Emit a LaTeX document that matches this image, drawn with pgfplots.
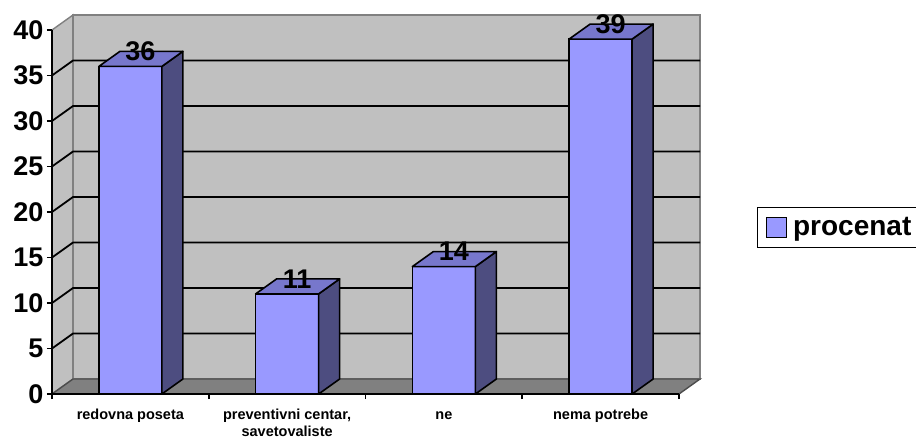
\documentclass[border=0pt]{standalone}
\usepackage{fontspec}
\setmainfont{Liberation Sans}
\usepackage{pgfplots}
\usepackage{pgfplotstable}
\pgfplotsset{compat=1.18}

\definecolor{barfront}{HTML}{9999FF}
\definecolor{barside}{HTML}{4D4D80}
\definecolor{bartop}{HTML}{7777CC}
\definecolor{wall}{HTML}{C0C0C0}
\definecolor{floorgray}{HTML}{808080}

\pgfplotstableread{
x   y
0.5 36
1.5 11
2.5 14
3.5 39
}\procenat

% depth of the 3d look: 21pt right and 15pt up
% in data units that is 21/156.75 on x and 15/9.1 on y
\def\dx{0.134}
\def\dy{1.648}

\begin{document}
\begin{tikzpicture}
\useasboundingbox (0,0) rectangle (916pt,440pt);
\clip (0,0) rectangle (916pt,440pt);
\begin{axis}[
  at={(52pt,46pt)}, anchor=south west,
  x=156.75pt, y=9.1pt,
  xmin=0, xmax=4, ymin=0, ymax=40,
  clip=false, axis on top,
  axis x line*=bottom, axis y line*=left,
  axis line style={line width=1.8pt},
  tick align=outside,
  ytick={0,5,...,40},
  xtick={0.5,1.5,2.5,3.5},
  xticklabels={\strut redovna poseta,{\strut preventivni centar,\\savetovaliste},\strut ne,\strut nema potrebe},
  minor xtick={0,1,2,3,4},
  major tick length=5pt, minor tick length=5pt,
  major x tick style={draw=none},
  minor x tick style={black, line width=1.8pt},
  y tick style={black, line width=1.8pt},
  xticklabel style={font=\bfseries\fontsize{14.5}{17}\selectfont, align=center, yshift=-5pt},
  yticklabel style={font=\bfseries\fontsize{27}{30}\selectfont},
  /pgf/number format/assume math mode=true,
  legend style={at={(1.1244,0.4574)}, anchor=west, draw=black, line width=1.4pt,
    font=\bfseries\fontsize{28}{32}\selectfont, inner xsep=8pt, inner ysep=8pt,
    column sep=4pt},
  legend image code/.code={\filldraw[fill=barfront, draw=black, line width=1.4pt] (0pt,-10pt) rectangle (20pt,10pt);},
]
% walls and floor
\filldraw[fill=wall, draw=floorgray, line width=1.4pt] (0,0) -- ({\dx},{\dy}) -- ({\dx},{40+\dy}) -- (0,40) -- cycle;
\filldraw[fill=wall, draw=floorgray, line width=1.4pt] ({\dx},{\dy}) rectangle ({4+\dx},{40+\dy});
\filldraw[fill=floorgray, draw=black!70, line width=1.4pt] (0,0) -- ({\dx},{\dy}) -- ({4+\dx},{\dy}) -- (4,0) -- cycle;
% gridlines
\pgfplotsinvokeforeach{5,10,...,35}{
  \draw[black, line width=1.8pt] (0,#1) -- ({\dx},{#1+\dy}) -- ({4+\dx},{#1+\dy});
}
% front faces
\addplot[ybar, bar width=0.402, bar shift=0pt, fill=barfront, draw=black, line width=1.6pt]
  table[x=x, y=y] {\procenat};
\addlegendentry{procenat}
% side and top faces, value labels
\addplot[scatter, only marks, mark=text, text mark={}, forget plot,
  visualization depends on={y \as \val},
  scatter/@pre marker code/.code={
    \pgfmathsetlengthmacro{\h}{\val*9.1pt}
    \filldraw[fill=barside, draw=black, line width=1.6pt, line join=round]
      (31.5pt,-\h) -- ++(21pt,15pt) -- (52.5pt,15pt) -- (31.5pt,0pt) -- cycle;
    \filldraw[fill=bartop, draw=black, line width=1.6pt, line join=round]
      (-31.5pt,0pt) -- (-10.5pt,15pt) -- (52.5pt,15pt) -- (31.5pt,0pt) -- cycle;
    \node[font=\bfseries\fontsize{27}{30}\selectfont, inner sep=0pt] at (10pt,15pt) {\pgfmathprintnumber{\val}};
  },
  scatter/@post marker code/.code={},
] table[x=x, y=y] {\procenat};
\end{axis}
\end{tikzpicture}
\end{document}
